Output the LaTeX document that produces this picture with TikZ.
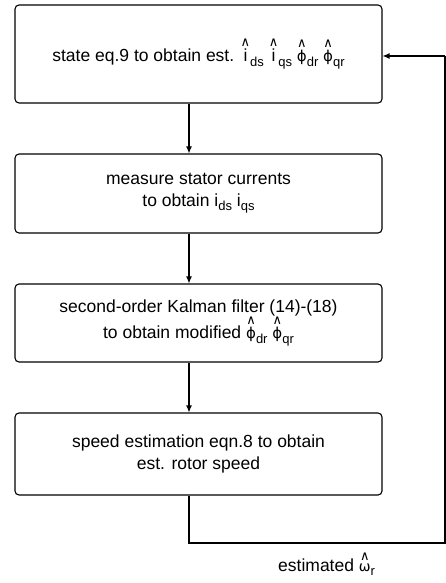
\documentclass[tikz,border=0pt]{standalone}
\usepackage{fontspec}
\setmainfont{Liberation Sans}
\newfontfamily\djv{DejaVu Sans}
\usetikzlibrary{arrows.meta}
\newcommand\hatted[2][2.5pt]{\leavevmode\vbox{\offinterlineskip\halign{\hfil##\hfil\cr{\djv\fontsize{13}{13}\selectfont ∧}\cr\noalign{\kern#1}#2\cr}}}
\newcommand\sbs[1]{\raisebox{-4.5pt}{\fontsize{13}{13}\selectfont #1}}
\newcommand\myphi{{\djv\fontsize{15}{15}\selectfont ϕ}}
\begin{document}
\begin{tikzpicture}[x=1pt,y=-1pt,
  box/.style={draw,line width=1.1pt,rounded corners=4pt,minimum width=367pt,align=center,
    font=\fontsize{17.5}{21.5}\selectfont,inner sep=0pt},
  flow/.style={line width=1.1pt,-{Latex[length=7pt,width=6pt]}},
  wire/.style={line width=1.1pt}]
\useasboundingbox (0,0) rectangle (446,583);
\node[box,minimum height=98pt] (b1) at (198.5,54) {state eq.9 to obtain est. \hatted{i}\sbs{ds} \hatted{i}\sbs{qs} \hatted{\myphi}\sbs{dr} \hatted{\myphi}\sbs{qr}};
\node[box,minimum height=79pt] (b2) at (198.5,193.5) {measure stator currents\\to obtain i\sbs{ds} i\sbs{qs}};
\node[box,minimum height=78pt] (b3) at (198.5,323) {second-order Kalman filter (14)-(18)\\to obtain modified \hatted{\myphi}\sbs{dr} \hatted{\myphi}\sbs{qr}};
\node[box,minimum height=82pt] (b4) at (198.5,454) {speed estimation eqn.8 to obtain\\est. rotor speed};
\coordinate (ax) at (189,0);
\coordinate (c1) at (189,543);
\coordinate (c2) at (445,543);
\coordinate (c3) at (445,56);
\draw[flow] (b1.south -| ax) -- (b2.north -| ax);
\draw[flow] (b2.south -| ax) -- (b3.north -| ax);
\draw[flow] (b3.south -| ax) -- (b4.north -| ax);
\draw[wire] (b4.south -| ax) -- (c1) -- (c2) -- (c3);
\draw[flow] (c3) -- (c3 -| b1.east);
\node[font=\fontsize{17.5}{21.5}\selectfont,anchor=base west,inner sep=0pt] (lab) at (278,571) {estimated \hatted[3.5pt]{\djv\fontsize{14}{10}\selectfont\raisebox{0pt}[7pt]{ω}}\sbs{r}};
\end{tikzpicture}
\end{document}
